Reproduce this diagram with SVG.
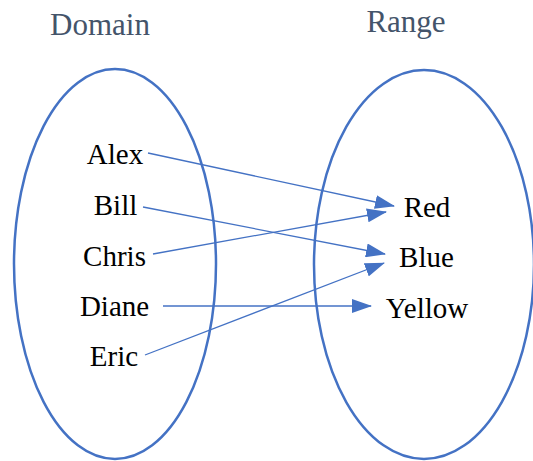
<svg xmlns="http://www.w3.org/2000/svg" width="533" height="461" viewBox="0 0 533 461">
<style>
.set{fill:none;stroke:#4472C4;stroke-width:2.5}
.title{font-family:'Liberation Serif','Times New Roman',serif;font-size:31px;fill:#44546A;text-anchor:middle}
.lbl{font-family:'Liberation Serif','Times New Roman',serif;font-size:29px;fill:#000;text-anchor:middle}
.conn{fill:none;stroke:#4472C4;stroke-width:1.3}
</style>
<defs>
<marker id="arr" markerUnits="userSpaceOnUse" markerWidth="20" markerHeight="14" refX="19" refY="7" orient="auto">
<path d="M0,0 L20,7 L0,14 z" fill="#4472C4"/>
</marker>
</defs>
<g id="domain">
<ellipse class="set" cx="115" cy="264" rx="101" ry="195"/>
<text class="title" x="100" y="35">Domain</text>
</g>
<g id="range">
<ellipse class="set" cx="424" cy="264.5" rx="110" ry="194.5"/>
<text class="title" x="406" y="32">Range</text>
</g>
<g id="alex"><text class="lbl" x="115" y="164">Alex</text></g>
<g id="bill"><text class="lbl" x="115.5" y="215">Bill</text></g>
<g id="chris"><text class="lbl" x="114.5" y="266">Chris</text></g>
<g id="diane"><text class="lbl" x="114.5" y="316">Diane</text></g>
<g id="eric"><text class="lbl" x="114" y="366">Eric</text></g>
<g id="red"><text class="lbl" x="427" y="217">Red</text></g>
<g id="blue"><text class="lbl" x="426.5" y="267">Blue</text></g>
<g id="yellow"><text class="lbl" x="427" y="318">Yellow</text></g>
<g id="connectors">
<line class="conn" x1="148" y1="153" x2="394" y2="206" marker-end="url(#arr)"/>
<line class="conn" x1="143" y1="207" x2="385" y2="254" marker-end="url(#arr)"/>
<line class="conn" x1="153" y1="254" x2="386" y2="212" marker-end="url(#arr)"/>
<line class="conn" x1="163" y1="306" x2="371" y2="306" marker-end="url(#arr)"/>
<line class="conn" x1="145" y1="355" x2="384" y2="263" marker-end="url(#arr)"/>
</g>
</svg>
